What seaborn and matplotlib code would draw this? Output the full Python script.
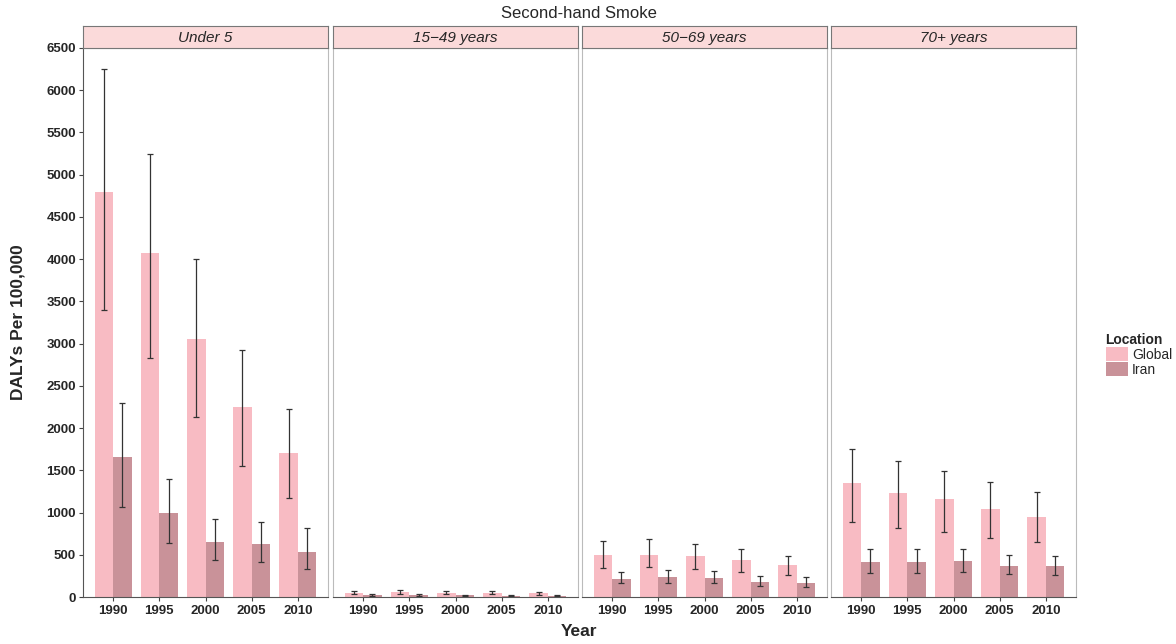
import numpy as np
import pandas as pd
import matplotlib
matplotlib.use('Agg')
import matplotlib.pyplot as plt
import seaborn as sns
from matplotlib.patches import Patch

# --- data ---
years = ['1990', '1995', '2000', '2005', '2010']
locations = ['Global', 'Iran']
age_groups = ['Under 5', '15\u221249 years', '50\u221269 years', '70+ years']

global_val = [
    [4800, 4070, 3050, 2250, 1700],
    [50, 55, 52, 48, 45],
    [497, 497, 485, 438, 379],
    [1350, 1231, 1160, 1042, 947],
]
global_lo = [
    [3400, 2830, 2130, 1550, 1170],
    [30, 35, 33, 30, 28],
    [343, 350, 331, 296, 260],
    [888, 817, 770, 699, 651],
]
global_hi = [
    [6250, 5250, 4000, 2930, 2230],
    [72, 78, 74, 68, 64],
    [663, 687, 627, 568, 485],
    [1752, 1610, 1492, 1362, 1243],
]
iran_val = [
    [1655, 994, 651, 627, 533],
    [22, 20, 18, 15, 14],
    [213, 237, 230, 178, 166],
    [414, 414, 426, 367, 367],
]
iran_lo = [
    [1066, 639, 438, 414, 331],
    [12, 11, 10, 8, 8],
    [166, 166, 166, 130, 118],
    [284, 284, 296, 272, 260],
]
iran_hi = [
    [2297, 1397, 923, 888, 817],
    [32, 30, 28, 24, 22],
    [296, 320, 308, 249, 237],
    [568, 568, 568, 497, 485],
]

colors = {'Global': '#F8BBC3', 'Iran': '#C99299'}

fig = plt.figure(figsize=(11.76, 6.44), dpi=100)
sns.set_style('white')
plt.rcParams['font.family'] = ['Liberation Sans', 'DejaVu Sans']

lefts = [83, 333, 582, 831]
pw = 245
bottom = 1 - 597 / 644
height = (597 - 48) / 644

for i, grp in enumerate(age_groups):
    df = pd.DataFrame({
        'Year': years * 2,
        'Location': ['Global'] * 5 + ['Iran'] * 5,
        'val': global_val[i] + iran_val[i],
        'lo': global_lo[i] + iran_lo[i],
        'hi': global_hi[i] + iran_hi[i],
    })
    ax = fig.add_axes([lefts[i] / 1176, bottom, pw / 1176, height])
    sns.barplot(data=df, x='Year', y='val', hue='Location', palette=colors,
                errorbar=None, width=0.8, saturation=1, legend=False,
                linewidth=0, ax=ax)
    for cont, loc in zip(ax.containers, locations):
        sub = df[df['Location'] == loc]
        xs = [p.get_x() + p.get_width() / 2 for p in cont]
        ax.errorbar(xs, sub['val'],
                    yerr=[sub['val'] - sub['lo'], sub['hi'] - sub['val']],
                    fmt='none', ecolor='#333333', elinewidth=0.9,
                    capsize=2, capthick=0.9)
    ax.set_ylim(0, 6500)
    ax.set_xlim(-0.65, 4.65)
    ax.set_xlabel('')
    ax.set_ylabel('')
    ax.set_yticks(np.arange(0, 6501, 500))
    ax.tick_params(axis='x', length=3, width=0.8, color='#444444', pad=3,
                   labelsize=9.5, direction='out', bottom=True)
    for lab in ax.get_xticklabels():
        lab.set_fontweight('bold')
    if i == 0:
        ax.tick_params(axis='y', length=3, width=0.8, color='#444444', pad=2,
                       labelsize=9.5, direction='out', left=True)
        for lab in ax.get_yticklabels():
            lab.set_fontweight('bold')
    else:
        ax.tick_params(axis='y', left=False, labelleft=False)
    for side, sp in ax.spines.items():
        sp.set_visible(True)
        sp.set_color('#BBBBBB')
        sp.set_linewidth(0.8)
    ax.spines['bottom'].set_color('#555555')
    if i == 0:
        ax.spines['left'].set_color('#555555')

    # facet strip
    sax = fig.add_axes([lefts[i] / 1176, 1 - 48 / 644, pw / 1176, 22 / 644])
    sax.set_facecolor('#FBDADA')
    sax.set_xticks([])
    sax.set_yticks([])
    for sp in sax.spines.values():
        sp.set_color('#777777')
        sp.set_linewidth(0.8)
    sax.text(0.5, 0.45, grp, ha='center', va='center', fontsize=11,
             style='italic', transform=sax.transAxes)

fig.text(579 / 1176, 1 - 13 / 644, 'Second-hand Smoke', ha='center', va='center',
         fontsize=12)
fig.text(579 / 1176, 1 - 631 / 644, 'Year', ha='center', va='center',
         fontsize=12.5, fontweight='bold')
fig.text(18 / 1176, 1 - 322 / 644, 'DALYs Per 100,000', ha='center', va='center',
         rotation=90, fontsize=12.5, fontweight='bold')

handles = [Patch(facecolor=colors[l], edgecolor='none') for l in locations]
leg = fig.legend(handles, locations, title='Location', loc='upper left',
                 bbox_to_anchor=(1100 / 1176, 1 - 327 / 644), frameon=False,
                 fontsize=10, title_fontsize=10, handlelength=1.6, handleheight=1.1,
                 handletextpad=0.3, labelspacing=0.05, borderaxespad=0)
leg.get_title().set_fontweight('bold')
leg._legend_box.align = 'left'

fig.savefig('out.png', dpi=100)
